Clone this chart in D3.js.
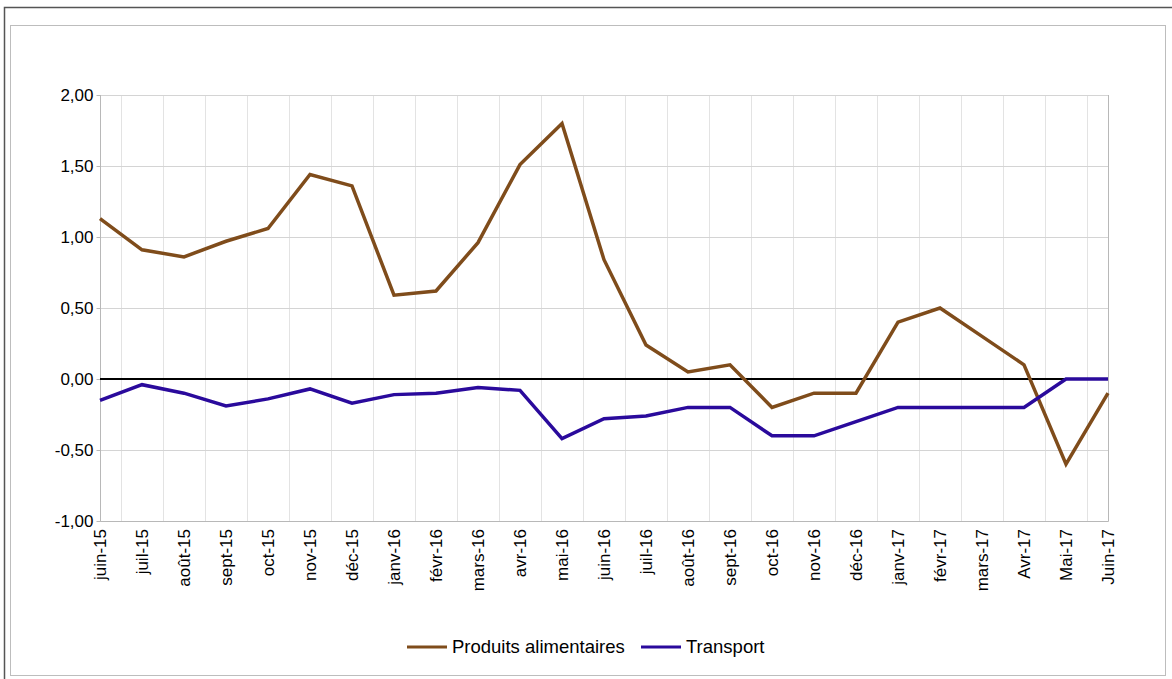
<!DOCTYPE html>
<html>
<head>
<meta charset="utf-8">
<script src="https://cdn.jsdelivr.net/npm/d3@7"></script>
<style>
  body { margin: 0; background: #fff; }
  svg { display: block; font-family: "Liberation Sans", Arial, sans-serif; }
</style>
</head>
<body>
<svg id="chart" width="1172" height="679"></svg>
<script>
// categories (months)
var months = ["juin-15", "juil-15", "août-15", "sept-15", "oct-15", "nov-15", "déc-15",
  "janv-16", "févr-16", "mars-16", "avr-16", "mai-16", "juin-16", "juil-16", "août-16",
  "sept-16", "oct-16", "nov-16", "déc-16", "janv-17", "févr-17", "mars-17", "Avr-17",
  "Mai-17", "Juin-17"];

var alimentaires = [1.13, 0.91, 0.86, 0.97, 1.06, 1.44, 1.36, 0.59, 0.62, 0.96, 1.51, 1.80,
  0.84, 0.24, 0.05, 0.10, -0.20, -0.10, -0.10, 0.40, 0.50, 0.30, 0.10, -0.60, -0.10];

var transport = [-0.15, -0.04, -0.10, -0.19, -0.14, -0.07, -0.17, -0.11, -0.10, -0.06, -0.08, -0.42,
  -0.28, -0.26, -0.20, -0.20, -0.40, -0.40, -0.30, -0.20, -0.20, -0.20, -0.20, 0.00, 0.00];

var yTicks = [-1, -0.5, 0, 0.5, 1, 1.5, 2];

var seriesNames = ["Produits alimentaires", "Transport"];
var seriesColors = ["#7f4c1b", "#2a0a9c"];

var svg = d3.select("#chart");

// frames
svg.append("path")
    .attr("d", "M4.5,679 V7.5 H1172")
    .attr("fill", "none")
    .attr("stroke", "#555")
    .attr("stroke-width", 1.5);
svg.append("rect")
    .attr("x", 10.5).attr("y", 25.5)
    .attr("width", 1155).attr("height", 650)
    .attr("fill", "none")
    .attr("stroke", "#bdbdbd");

var plotL = 100, plotR = 1108, plotT = 95, plotB = 521;

var x = d3.scalePoint()
    .domain(months)
    .range([plotL, plotR]);

var y = d3.scaleLinear()
    .domain([-1, 2])
    .range([plotB, plotT]);

var step = x.step();

// vertical grid between categories
svg.append("g")
    .selectAll("line")
    .data(months.slice(0, -1))
    .enter().append("line")
      .attr("x1", function(d) { return Math.round(x(d) + step / 2) + 0.5; })
      .attr("x2", function(d) { return Math.round(x(d) + step / 2) + 0.5; })
      .attr("y1", plotT)
      .attr("y2", plotB)
      .attr("stroke", "#e3e3e3");

// horizontal grid
svg.append("g")
    .selectAll("line")
    .data(yTicks)
    .enter().append("line")
      .attr("x1", plotL)
      .attr("x2", plotR)
      .attr("y1", function(d) { return Math.round(y(d)) + 0.5; })
      .attr("y2", function(d) { return Math.round(y(d)) + 0.5; })
      .attr("stroke", "#d4d4d4");

// plot border (left, right, bottom)
svg.append("path")
    .attr("d", "M" + (plotL + 0.5) + "," + plotT + " V" + (plotB + 0.5) + " H" + (plotR + 0.5) + " V" + plotT)
    .attr("fill", "none")
    .attr("stroke", "#b8b8b8");

// y axis
var yAxis = d3.axisLeft(y)
    .tickValues(yTicks)
    .tickSize(4)
    .tickPadding(3)
    .tickFormat(function(d) { return d3.format(".2f")(d).replace(".", ",").replace("−", "-"); });

var gy = svg.append("g")
    .attr("transform", "translate(" + (plotL + 0.5) + ",0)")
    .call(yAxis);
gy.select(".domain").remove();
gy.selectAll(".tick line").attr("stroke", "#b8b8b8");
gy.selectAll(".tick text")
    .attr("fill", "#000")
    .style("font-size", "17px")
    .style("font-family", "'Liberation Sans', Arial, sans-serif");

// x axis labels, rotated
var xAxis = d3.axisBottom(x).tickSize(0).tickPadding(0);
var gx = svg.append("g")
    .attr("transform", "translate(0," + plotB + ")")
    .call(xAxis);
gx.select(".domain").remove();
gx.selectAll(".tick text")
    .attr("fill", "#000")
    .style("font-size", "17px")
    .style("font-family", "'Liberation Sans', Arial, sans-serif")
    .attr("text-anchor", "end")
    .attr("transform", "rotate(-90)")
    .attr("x", -8)
    .attr("y", 0)
    .attr("dy", "0.35em");

// zero line
svg.append("line")
    .attr("x1", plotL).attr("x2", plotR)
    .attr("y1", y(0)).attr("y2", y(0))
    .attr("stroke", "#000")
    .attr("stroke-width", 2);

// series lines
var line = d3.line()
    .x(function(d, i) { return x(months[i]); })
    .y(function(d) { return y(d); });

[alimentaires, transport].forEach(function(s, k) {
  svg.append("path")
      .datum(s)
      .attr("d", line)
      .attr("fill", "none")
      .attr("stroke", seriesColors[k])
      .attr("stroke-width", 3.5)
      .attr("stroke-linejoin", "miter");
});

// legend
var legendItems = [
  { x: 407, name: seriesNames[0], color: seriesColors[0] },
  { x: 641, name: seriesNames[1], color: seriesColors[1] }
];
var lg = svg.append("g").attr("transform", "translate(0,647)");
legendItems.forEach(function(d) {
  lg.append("line")
      .attr("x1", d.x).attr("x2", d.x + 40)
      .attr("y1", 0).attr("y2", 0)
      .attr("stroke", d.color)
      .attr("stroke-width", 3);
  lg.append("text")
      .attr("x", d.x + 45)
      .attr("y", 0)
      .attr("dy", "0.35em")
      .style("font-size", "18.5px")
      .text(d.name);
});
</script>
</body>
</html>
